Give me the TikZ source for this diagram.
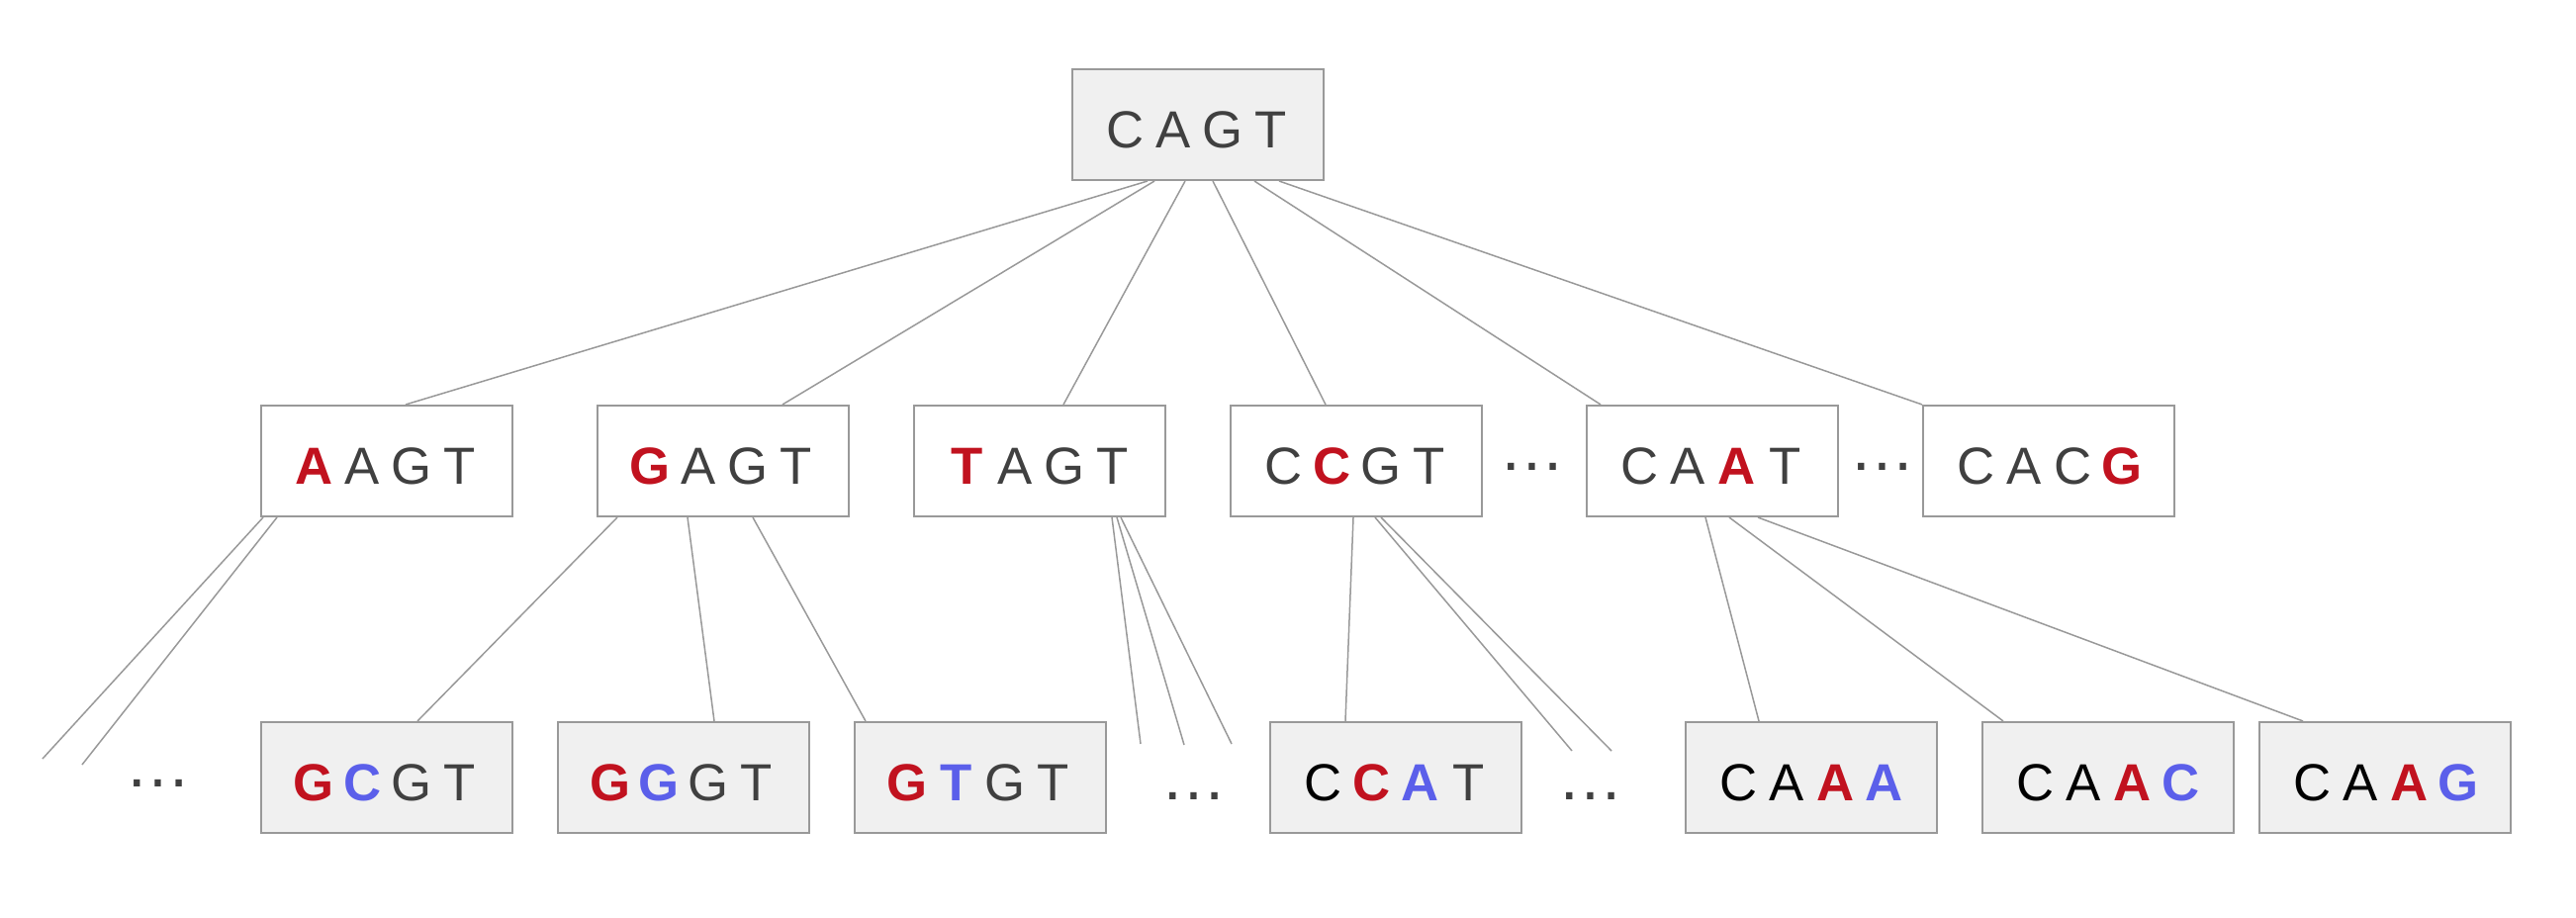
\documentclass[tikz,border=0pt]{standalone}
\usepackage{fontspec}
\setmainfont{Liberation Sans}
\usetikzlibrary{calc}
\definecolor{txtgray}{HTML}{404040}
\definecolor{nred}{HTML}{C1121F}
\definecolor{nblue}{HTML}{5B5FEA}
\definecolor{edgegray}{HTML}{999999}
\definecolor{boxfill}{HTML}{F0F0F0}
\newcommand{\seqG}[1]{\makebox[0.49cm]{\color{txtgray}#1}}
\newcommand{\seqK}[1]{\makebox[0.49cm]{\color{black}#1}}
\newcommand{\seqR}[1]{\makebox[0.49cm]{\color{nred}\bfseries #1}}
\newcommand{\seqB}[1]{\makebox[0.49cm]{\color{nblue}\bfseries #1}}
\begin{document}
\begin{tikzpicture}[x=0.01cm, y=-0.01cm,
  seqbox/.style={draw=edgegray, line width=0.02cm, minimum width=2.54cm,
    minimum height=1.12cm, inner sep=0pt, text height=0.47cm, text depth=0pt,
    font=\fontsize{15pt}{18pt}\selectfont},
  topbox/.style={seqbox, fill=boxfill},
  midbox/.style={seqbox, fill=white},
  botbox/.style={seqbox, fill=boxfill},
  edge/.style={draw=edgegray, line width=0.015cm},
  dots/.style={anchor=base, text=txtgray, inner sep=0pt,
    font=\fontsize{19pt}{22pt}\selectfont}]
\useasboundingbox (0,0) rectangle (2604,928);

% root
\node[topbox] (r) at (1211,126) {\seqG{C}\seqG{A}\seqG{G}\seqG{T}};

% middle row
\node[midbox] (m1) at (391,466)  {\seqR{A}\seqG{A}\seqG{G}\seqG{T}};
\node[midbox] (m2) at (731,466)  {\seqR{G}\seqG{A}\seqG{G}\seqG{T}};
\node[midbox] (m3) at (1051,466) {\seqR{T}\seqG{A}\seqG{G}\seqG{T}};
\node[midbox] (m4) at (1371,466) {\seqG{C}\seqR{C}\seqG{G}\seqG{T}};
\node[midbox] (m5) at (1731,466) {\seqG{C}\seqG{A}\seqR{A}\seqG{T}};
\node[midbox] (m6) at (2071,466) {\seqG{C}\seqG{A}\seqG{C}\seqR{G}};

% bottom row
\node[botbox] (b1) at (391,786)  {\seqR{G}\seqB{C}\seqG{G}\seqG{T}};
\node[botbox] (b2) at (691,786)  {\seqR{G}\seqB{G}\seqG{G}\seqG{T}};
\node[botbox] (b3) at (991,786)  {\seqR{G}\seqB{T}\seqG{G}\seqG{T}};
\node[botbox] (b4) at (1411,786) {\seqK{C}\seqR{C}\seqB{A}\seqG{T}};
\node[botbox] (b5) at (1831,786) {\seqK{C}\seqK{A}\seqR{A}\seqB{A}};
\node[botbox] (b6) at (2131,786) {\seqK{C}\seqK{A}\seqR{A}\seqB{C}};
\node[botbox] (b7) at (2411,786) {\seqK{C}\seqK{A}\seqR{A}\seqB{G}};

% ellipses
\node[dots] (d1) at (160,795)  {…};
\node[dots] (d2) at (1549,476) {…};
\node[dots] (d3) at (1903,476) {…};
\node[dots] (d4) at (1207,808) {…};
\node[dots] (d5) at (1608,808) {…};

% free ends
\coordinate (f1) at (43,767);
\coordinate (f2) at (83,773);
\coordinate (f3) at (1153,752);
\coordinate (f4) at (1197,753);
\coordinate (f5) at (1245,752);
\coordinate (f6) at (1589,759);
\coordinate (f7) at (1629,759);

% root edges
\draw[edge] ($(r.south)+(-51,0)$) -- ($(m1.north)+(19,0)$);
\draw[edge] ($(r.south)+(-44,0)$) -- ($(m2.north)+(60,0)$);
\draw[edge] ($(r.south)+(-13,0)$) -- ($(m3.north)+(24,0)$);
\draw[edge] ($(r.south)+(15,0)$)  -- ($(m4.north)+(-31,0)$);
\draw[edge] ($(r.south)+(57,0)$)  -- ($(m5.north)+(-113,0)$);
\draw[edge] ($(r.south)+(82,0)$)  -- (m6.north west);

% middle edges
\draw[edge] ($(m1.south)+(-125,0)$) -- (f1);
\draw[edge] ($(m1.south)+(-111,0)$) -- (f2);
\draw[edge] ($(m2.south)+(-107,0)$) -- ($(b1.north)+(31,0)$);
\draw[edge] ($(m2.south)+(-36,0)$)  -- ($(b2.north)+(31,0)$);
\draw[edge] ($(m2.south)+(30,0)$)   -- ($(b3.north)+(-116,0)$);
\draw[edge] ($(m3.south)+(73,0)$) -- (f3);
\draw[edge] ($(m3.south)+(78,0)$) -- (f4);
\draw[edge] ($(m3.south)+(82,0)$) -- (f5);
\draw[edge] ($(m4.south)+(-3,0)$) -- ($(b4.north)+(-51,0)$);
\draw[edge] ($(m4.south)+(19,0)$) -- (f6);
\draw[edge] ($(m4.south)+(25,0)$) -- (f7);
\draw[edge] ($(m5.south)+(-7,0)$) -- ($(b5.north)+(-53,0)$);
\draw[edge] ($(m5.south)+(17,0)$) -- ($(b6.north)+(-106,0)$);
\draw[edge] ($(m5.south)+(46,0)$) -- ($(b7.north)+(-83,0)$);
\end{tikzpicture}
\end{document}
